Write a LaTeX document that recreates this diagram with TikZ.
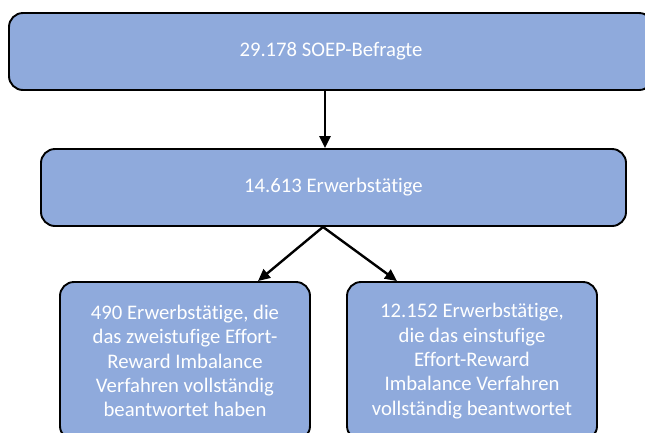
\documentclass[tikz,border=0pt]{standalone}
\usepackage{fontspec}
\setmainfont{Carlito}[Ligatures=NoCommon]
\usetikzlibrary{arrows.meta}
\definecolor{boxblue}{RGB}{143,170,220}
\tikzset{
    every node/.style={font=\fontsize{20.7}{24.3}\selectfont},
    bluebox/.style={draw=black, fill=boxblue, line width=1.9pt, rounded corners=14pt, align=center, text=white, inner sep=0pt},
    arrow/.style={-{Triangle[length=12pt,width=11pt]}, line width=2.4pt},
}
\begin{document}
\begin{tikzpicture}[x=1pt,y=-1pt]
\clip (0,0) rectangle (645,432);
% the two wide boxes on top
\node[bluebox, minimum width=644, minimum height=77] (befragte) at (331,51.5) {29.178 SOEP-Befragte};
\node[bluebox, minimum width=585, minimum height=77] (erwerb) at (333.5,187.5) {14.613 Erwerbst\"atige};
% the two groups below, cut off at the bottom
\node[bluebox, minimum width=250, minimum height=158] (zweistufig) at (185,361) {490 Erwerbst\"atige, die\\das zweistufige Effort-\\Reward Imbalance\\Verfahren vollst\"andig\\beantwortet haben};
\node[bluebox, minimum width=250, minimum height=158] (einstufig) at (472,361) {12.152 Erwerbst\"atige,\\die das einstufige\\Effort-Reward\\Imbalance Verfahren\\vollst\"andig beantwortet};
\draw[arrow] ([xshift=-6]befragte.south) -- ([xshift=-8.5]erwerb.north);
\draw[arrow] ([xshift=-10.5]erwerb.south) -- ([xshift=73]zweistufig.north);
\draw[arrow] ([xshift=-10.5]erwerb.south) -- ([xshift=-75]einstufig.north);
\end{tikzpicture}
\end{document}
